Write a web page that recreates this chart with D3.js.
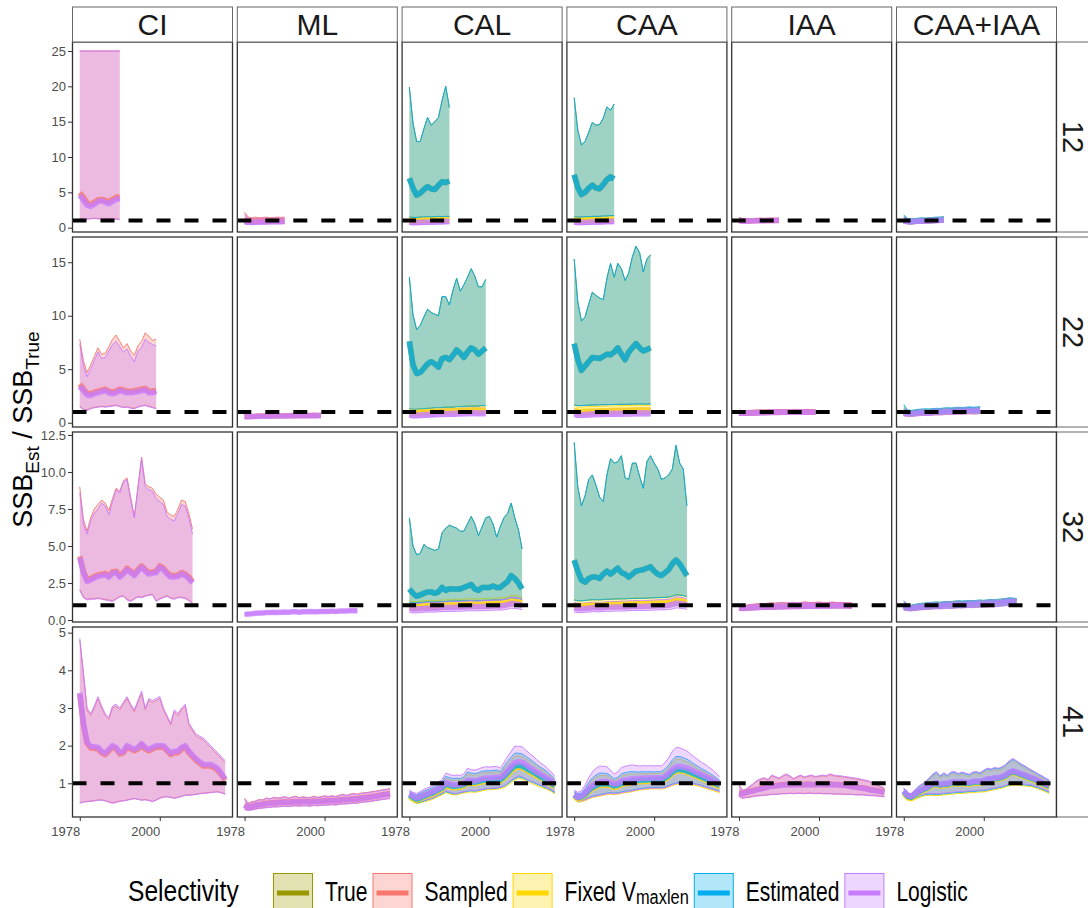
<!DOCTYPE html>
<html>
<head>
<meta charset="utf-8">
<script src="https://cdn.jsdelivr.net/npm/d3@7"></script>
<style>
  html, body { margin: 0; padding: 0; background: #fff; }
  svg { display: block; }
</style>
</head>
<body>
<div id="chart"></div>
<script>
// ---- facets and series ----
const methods = ["CI", "ML", "CAL", "CAA", "IAA", "CAA+IAA"];
const yearLabels = ["12", "22", "32", "41"];
const firstYear = 1978;
const seriesNames = ["True", "Sampled", "Fixed", "Estimated", "Logistic"];
const seriesColors = ["#9a9a00", "#f8766d", "#ffd700", "#00aeef", "#c77cff"];
const xTickValues = [1978, 2000];
const xDomain = [1978, 2018];
const yDomains = [[-0.61, 26.27], [-0.4, 17.36], [-0.135, 12.7], [0.105, 5.15]];
const yTickValues = [[0, 5, 10, 15, 20, 25], [0, 5, 10, 15], [0, 2.5, 5, 7.5, 10, 12.5], [1, 2, 3, 4, 5]];
const referenceLevel = 1;

// ---- 12 years ----
const ci12SamLo = [1.35,1.25,1.25,1.3,1.35,1.3,1.3,1.25,1.25,1.3,1.25,1.2];
const ci12SamMed = [4.95,4.3,3.5,3.3,3.6,3.95,4.0,3.85,3.7,4.0,4.3,4.4];
const ci12SamHi = [25,25,25,25,25,25,25,25,25,25,25,25];
const ci12LogLo = [1.3,1.2,1.2,1.25,1.3,1.25,1.25,1.2,1.2,1.25,1.2,1.15];
const ci12LogMed = [4.6,3.9,3.2,3.0,3.3,3.7,3.8,3.6,3.4,3.7,4.0,4.1];
const ci12LogHi = [25,25,25,25,25,25,25,25,25,25,25,25];

const ml12SamLo = [0.6,0.55,0.55,0.6,0.6,0.62,0.6,0.62,0.65,0.63,0.65,0.66];
const ml12SamMed = [1.1,0.95,0.9,0.92,0.95,0.93,0.95,0.97,0.95,0.98,0.97,0.98];
const ml12SamHi = [2.2,1.5,1.4,1.5,1.4,1.45,1.5,1.4,1.45,1.5,1.45,1.5];
const ml12LogLo = [0.5,0.45,0.47,0.5,0.5,0.52,0.52,0.55,0.55,0.55,0.57,0.58];
const ml12LogMed = [0.9,0.78,0.75,0.78,0.8,0.8,0.82,0.84,0.83,0.85,0.85,0.86];
const ml12LogHi = [1.9,1.35,1.3,1.35,1.3,1.35,1.4,1.3,1.35,1.4,1.35,1.4];

const cal12EstLo = [1.5,1.45,1.45,1.5,1.5,1.55,1.5,1.55,1.6,1.55,1.6,1.6];
const cal12EstMed = [7.0,5.6,4.6,4.9,5.4,5.8,5.5,5.4,6.0,6.5,6.4,6.6];
const cal12EstHi = [19.9,14.8,12.2,12.2,14.0,15.6,14.5,15.0,15.6,18.0,20.0,17.0];
const cal12FixLo = [0.7,0.65,0.65,0.7,0.72,0.72,0.74,0.74,0.75,0.76,0.77,0.78];
const cal12FixMed = [1.05,0.95,0.95,1.0,1.0,1.05,1.0,1.05,1.05,1.05,1.1,1.1];
const cal12FixHi = [1.5,1.35,1.35,1.4,1.4,1.45,1.4,1.45,1.5,1.45,1.5,1.5];
const cal12LogLo = [0.45,0.4,0.42,0.45,0.47,0.48,0.5,0.5,0.52,0.53,0.55,0.56];
const cal12LogMed = [0.8,0.72,0.72,0.75,0.78,0.78,0.8,0.82,0.84,0.85,0.87,0.88];
const cal12LogHi = [1.25,1.15,1.15,1.2,1.2,1.22,1.22,1.25,1.27,1.28,1.3,1.32];

const caa12EstLo = [1.55,1.5,1.5,1.55,1.55,1.6,1.6,1.6,1.65,1.65,1.7,1.7];
const caa12EstMed = [7.5,5.7,4.7,5.0,5.6,6.0,5.6,5.5,6.1,6.8,7.2,6.9];
const caa12EstHi = [18.4,13.8,11.7,12.2,13.5,14.9,14.5,14.6,15.5,17.1,16.6,17.5];
const caa12FixLo = [0.75,0.68,0.66,0.7,0.72,0.74,0.73,0.75,0.76,0.78,0.79,0.8];
const caa12FixMed = [1.1,1.0,0.98,1.0,1.02,1.05,1.03,1.05,1.07,1.08,1.1,1.1];
const caa12FixHi = [1.6,1.4,1.38,1.42,1.45,1.48,1.45,1.47,1.5,1.52,1.53,1.55];
const caa12LogLo = [0.48,0.42,0.42,0.45,0.47,0.5,0.49,0.52,0.53,0.55,0.56,0.57];
const caa12LogMed = [0.82,0.74,0.72,0.75,0.78,0.8,0.79,0.82,0.84,0.86,0.87,0.88];
const caa12LogHi = [1.3,1.18,1.15,1.2,1.22,1.25,1.23,1.26,1.28,1.3,1.32,1.33];

const iaa12SamLo = [0.72,0.69,0.68,0.71,0.73,0.73,0.75,0.73,0.75,0.76,0.75,0.76];
const iaa12SamMed = [1.05,0.97,0.95,0.97,0.99,1.0,1.02,1.0,1.02,1.04,1.02,1.04];
const iaa12SamHi = [1.45,1.28,1.25,1.27,1.3,1.32,1.32,1.3,1.32,1.34,1.32,1.34];
const iaa12LogLo = [0.7,0.68,0.67,0.7,0.72,0.72,0.74,0.72,0.74,0.75,0.74,0.75];
const iaa12LogMed = [1.0,0.95,0.93,0.95,0.97,0.98,1.0,0.98,1.0,1.02,1.0,1.02];
const iaa12LogHi = [1.35,1.25,1.22,1.25,1.28,1.3,1.3,1.28,1.3,1.32,1.3,1.32];

const both12FixLo = [0.62,0.58,0.56,0.6,0.63,0.66,0.65,0.68,0.7,0.73,0.74,0.76];
const both12FixMed = [1.02,0.88,0.84,0.88,0.93,0.97,0.95,0.98,1.02,1.07,1.09,1.12];
const both12FixHi = [1.6,1.28,1.22,1.27,1.32,1.37,1.33,1.38,1.43,1.47,1.48,1.52];
const both12EstLo = [0.65,0.6,0.58,0.62,0.65,0.68,0.67,0.7,0.72,0.75,0.76,0.78];
const both12EstMed = [1.1,0.9,0.85,0.9,0.95,1.0,0.98,1.0,1.05,1.1,1.12,1.15];
const both12EstHi = [1.8,1.3,1.25,1.3,1.35,1.4,1.35,1.4,1.45,1.5,1.5,1.55];
const both12LogLo = [0.6,0.56,0.55,0.58,0.6,0.63,0.62,0.65,0.67,0.7,0.71,0.73];
const both12LogMed = [0.95,0.85,0.82,0.86,0.9,0.94,0.92,0.95,0.99,1.03,1.05,1.08];
const both12LogHi = [1.5,1.25,1.2,1.25,1.3,1.33,1.3,1.35,1.4,1.42,1.45,1.48];

// ---- 22 years ----
const ci22SamLo = [1.55,1.25,1.2,1.35,1.45,1.5,1.55,1.5,1.55,1.6,1.65,1.55,1.45,1.5,1.4,1.35,1.5,1.6,1.65,1.55,1.45,1.35];
const ci22SamMed = [3.6,3.15,2.75,2.7,2.85,2.95,3.05,3.15,2.95,2.85,2.95,3.15,3.05,2.95,2.95,3.0,3.05,3.15,3.2,2.95,2.95,3.05];
const ci22SamHi = [7.8,5.8,4.7,5.4,6.2,7.0,6.4,6.5,7.1,7.8,8.2,7.6,7.0,7.4,6.7,6.3,7.2,7.6,8.4,8.1,7.7,7.8];
const ci22LogLo = [1.5,1.2,1.15,1.3,1.4,1.45,1.5,1.45,1.5,1.55,1.6,1.5,1.4,1.45,1.35,1.3,1.45,1.55,1.6,1.5,1.4,1.3];
const ci22LogMed = [3.4,3.0,2.6,2.55,2.7,2.8,2.9,3.0,2.8,2.7,2.8,3.0,2.9,2.8,2.8,2.85,2.9,3.0,3.05,2.8,2.8,2.9];
const ci22LogHi = [7.4,5.3,4.3,5.0,5.8,6.6,6.0,6.1,6.7,7.3,7.6,7.1,6.6,6.9,6.2,5.7,6.7,7.0,7.8,7.5,7.3,7.2];

const ml22SamLo = [0.43,0.45,0.47,0.48,0.5,0.5,0.52,0.51,0.52,0.53,0.52,0.54,0.53,0.55,0.54,0.55,0.56,0.55,0.56,0.57,0.56,0.57];
const ml22SamMed = [0.57,0.57,0.59,0.6,0.62,0.62,0.64,0.62,0.64,0.65,0.64,0.66,0.65,0.67,0.66,0.67,0.68,0.67,0.68,0.69,0.68,0.69];
const ml22SamHi = [0.74,0.69,0.71,0.73,0.75,0.73,0.77,0.74,0.76,0.78,0.76,0.79,0.77,0.8,0.78,0.79,0.81,0.79,0.8,0.82,0.8,0.81];
const ml22LogLo = [0.42,0.44,0.46,0.47,0.49,0.49,0.51,0.5,0.51,0.52,0.51,0.53,0.52,0.54,0.53,0.54,0.55,0.54,0.55,0.56,0.55,0.56];
const ml22LogMed = [0.55,0.55,0.57,0.58,0.6,0.6,0.62,0.6,0.62,0.63,0.62,0.64,0.63,0.65,0.64,0.65,0.66,0.65,0.66,0.67,0.66,0.67];
const ml22LogHi = [0.7,0.66,0.68,0.7,0.72,0.7,0.74,0.71,0.73,0.75,0.73,0.76,0.74,0.77,0.75,0.76,0.78,0.76,0.77,0.79,0.77,0.78];

const cal22EstLo = [1.3,1.25,1.25,1.3,1.3,1.35,1.35,1.4,1.4,1.4,1.45,1.45,1.45,1.5,1.5,1.5,1.55,1.55,1.55,1.55,1.6,1.6];
const cal22EstMed = [7.6,5.4,4.6,4.7,5.1,5.5,5.7,5.5,5.2,6.0,6.1,5.9,6.3,6.8,6.5,6.1,6.6,7.0,6.8,6.4,6.7,7.0];
const cal22EstHi = [13.6,10.1,8.7,9.1,9.9,10.6,10.3,10.15,10.0,11.8,11.8,11.0,12.4,13.5,12.3,12.9,13.6,14.4,13.7,12.7,12.7,13.4];
const cal22FixLo = [0.72,0.68,0.68,0.7,0.72,0.74,0.75,0.76,0.78,0.79,0.8,0.81,0.82,0.83,0.84,0.85,0.86,0.87,0.87,0.86,0.86,0.87];
const cal22FixMed = [1.0,0.95,0.95,0.98,1.0,1.02,1.04,1.05,1.07,1.08,1.1,1.1,1.12,1.13,1.14,1.15,1.17,1.18,1.18,1.17,1.17,1.18];
const cal22FixHi = [1.3,1.25,1.25,1.3,1.32,1.35,1.38,1.4,1.42,1.45,1.47,1.48,1.5,1.52,1.53,1.55,1.58,1.6,1.6,1.58,1.58,1.6];
const cal22LogLo = [0.5,0.44,0.44,0.46,0.48,0.5,0.52,0.53,0.55,0.56,0.57,0.58,0.59,0.6,0.61,0.62,0.63,0.64,0.64,0.63,0.63,0.64];
const cal22LogMed = [0.78,0.7,0.7,0.73,0.75,0.77,0.79,0.8,0.82,0.84,0.85,0.86,0.87,0.88,0.89,0.9,0.92,0.93,0.93,0.92,0.92,0.93];
const cal22LogHi = [1.15,1.05,1.05,1.1,1.12,1.15,1.18,1.2,1.22,1.25,1.27,1.28,1.3,1.32,1.33,1.35,1.37,1.38,1.38,1.37,1.37,1.38];

const caa22EstLo = [1.65,1.6,1.6,1.62,1.64,1.65,1.66,1.67,1.68,1.68,1.7,1.7,1.71,1.72,1.72,1.72,1.74,1.74,1.75,1.74,1.74,1.75];
const caa22EstMed = [7.4,5.9,4.9,5.3,5.7,6.1,6.05,6.0,6.2,6.4,6.35,6.6,7.0,6.4,5.9,6.6,7.0,7.4,7.0,6.7,6.85,7.0];
const caa22EstHi = [15.3,11.3,9.5,9.9,11.1,12.2,11.9,11.65,11.5,13.5,14.9,13.6,14.9,14.4,13.3,14.0,15.5,16.5,15.9,14.1,15.3,15.7];
const caa22FixLo = [0.8,0.72,0.72,0.74,0.75,0.76,0.77,0.78,0.79,0.8,0.8,0.81,0.82,0.82,0.82,0.83,0.84,0.84,0.85,0.84,0.84,0.85];
const caa22FixMed = [1.2,1.05,1.05,1.07,1.08,1.1,1.1,1.11,1.12,1.13,1.14,1.14,1.16,1.16,1.16,1.16,1.18,1.18,1.19,1.18,1.18,1.19];
const caa22FixHi = [1.75,1.45,1.45,1.48,1.5,1.5,1.52,1.52,1.55,1.55,1.57,1.57,1.6,1.6,1.6,1.6,1.62,1.62,1.64,1.62,1.62,1.64];
const caa22LogLo = [0.55,0.48,0.48,0.5,0.52,0.53,0.54,0.55,0.56,0.57,0.58,0.58,0.59,0.59,0.6,0.6,0.61,0.62,0.62,0.62,0.62,0.63];
const caa22LogMed = [0.85,0.75,0.75,0.78,0.8,0.82,0.83,0.84,0.85,0.86,0.87,0.88,0.89,0.89,0.9,0.9,0.91,0.92,0.93,0.92,0.92,0.93];
const caa22LogHi = [1.3,1.15,1.15,1.18,1.2,1.22,1.23,1.25,1.26,1.28,1.29,1.3,1.32,1.32,1.33,1.33,1.35,1.36,1.37,1.36,1.36,1.37];

const iaa22SamLo = [0.69,0.68,0.7,0.71,0.72,0.73,0.74,0.74,0.75,0.76,0.76,0.76,0.77,0.77,0.77,0.78,0.78,0.78,0.79,0.79,0.78,0.79];
const iaa22SamMed = [0.92,0.9,0.92,0.94,0.95,0.96,0.97,0.97,0.98,0.99,0.99,1.0,1.0,1.01,1.0,1.01,1.02,1.01,1.02,1.02,1.01,1.02];
const iaa22SamHi = [1.2,1.1,1.12,1.15,1.16,1.18,1.19,1.17,1.2,1.22,1.2,1.22,1.23,1.24,1.22,1.24,1.25,1.23,1.24,1.25,1.23,1.24];
const iaa22LogLo = [0.68,0.67,0.69,0.7,0.71,0.72,0.73,0.73,0.74,0.75,0.75,0.75,0.76,0.76,0.76,0.77,0.77,0.77,0.78,0.78,0.77,0.78];
const iaa22LogMed = [0.9,0.88,0.9,0.92,0.93,0.94,0.95,0.95,0.96,0.97,0.97,0.98,0.98,0.99,0.98,0.99,1.0,0.99,1.0,1.0,0.99,1.0];
const iaa22LogHi = [1.15,1.08,1.1,1.13,1.14,1.16,1.17,1.15,1.18,1.2,1.18,1.2,1.21,1.22,1.2,1.22,1.23,1.21,1.22,1.23,1.21,1.22];

const both22FixLo = [0.67,0.62,0.61,0.64,0.67,0.69,0.71,0.7,0.73,0.75,0.74,0.77,0.79,0.78,0.8,0.82,0.81,0.83,0.85,0.83,0.84,0.87];
const both22FixMed = [0.98,0.87,0.85,0.89,0.93,0.96,0.98,0.97,1.0,1.03,1.02,1.05,1.07,1.06,1.09,1.12,1.1,1.12,1.15,1.13,1.14,1.17];
const both22FixHi = [1.5,1.16,1.12,1.17,1.22,1.25,1.27,1.25,1.29,1.32,1.3,1.35,1.37,1.35,1.39,1.42,1.39,1.42,1.45,1.42,1.44,1.47];
const both22EstLo = [0.7,0.65,0.63,0.67,0.7,0.72,0.74,0.73,0.76,0.78,0.77,0.8,0.82,0.81,0.83,0.85,0.84,0.86,0.88,0.86,0.87,0.9];
const both22EstMed = [1.05,0.9,0.87,0.92,0.96,0.99,1.01,1.0,1.03,1.06,1.05,1.08,1.1,1.09,1.12,1.15,1.13,1.15,1.18,1.16,1.17,1.2];
const both22EstHi = [1.7,1.2,1.15,1.2,1.25,1.28,1.3,1.28,1.32,1.35,1.33,1.38,1.4,1.38,1.42,1.45,1.42,1.45,1.48,1.45,1.47,1.5];
const both22LogLo = [0.64,0.6,0.59,0.62,0.65,0.67,0.69,0.68,0.71,0.73,0.72,0.75,0.77,0.76,0.78,0.8,0.79,0.81,0.83,0.81,0.82,0.85];
const both22LogMed = [0.92,0.84,0.82,0.86,0.9,0.93,0.95,0.94,0.97,1.0,0.99,1.02,1.04,1.03,1.06,1.09,1.07,1.09,1.12,1.1,1.11,1.14];
const both22LogHi = [1.35,1.12,1.08,1.14,1.18,1.22,1.24,1.22,1.26,1.29,1.27,1.32,1.34,1.32,1.36,1.39,1.36,1.39,1.42,1.39,1.41,1.44];

// ---- 32 years ----
const ci32SamLo = [2.05,1.55,1.4,1.45,1.45,1.5,1.45,1.4,1.35,1.3,1.45,1.6,1.65,1.4,1.3,1.45,1.6,1.55,1.65,1.7,1.75,1.3,1.45,1.55,1.65,1.5,1.45,1.55,1.55,1.5,1.35,1.15];
const ci32SamMed = [4.3,3.3,2.7,2.8,2.95,3.05,3.1,3.15,3.0,3.25,3.3,3.0,3.2,3.5,3.3,3.1,3.4,3.65,3.4,3.2,3.25,3.3,3.65,3.5,3.2,3.0,3.0,3.05,3.2,3.1,2.9,2.6];
const ci32SamHi = [9.0,6.8,6.0,6.9,7.5,7.8,8.1,7.9,7.4,8.2,8.9,8.7,9.4,9.6,8.3,7.0,9.0,11.0,9.2,9.0,8.9,8.5,8.3,8.1,7.3,7.1,7.0,7.5,8.1,8.0,7.2,6.15];
const ci32LogLo = [2.0,1.5,1.35,1.4,1.4,1.45,1.4,1.35,1.3,1.25,1.4,1.55,1.6,1.35,1.25,1.4,1.55,1.5,1.6,1.65,1.7,1.25,1.4,1.5,1.6,1.45,1.4,1.5,1.5,1.45,1.3,1.1];
const ci32LogMed = [4.2,3.2,2.6,2.7,2.85,2.95,3.0,3.05,2.9,3.15,3.2,2.9,3.1,3.4,3.2,3.0,3.3,3.55,3.3,3.1,3.15,3.2,3.55,3.4,3.1,2.9,2.9,2.95,3.1,3.0,2.8,2.5];
const ci32LogHi = [8.6,6.5,5.8,6.7,7.2,7.5,7.9,7.7,7.1,8.0,8.8,8.6,9.3,9.5,8.1,6.9,8.9,10.9,9.0,8.8,8.7,8.2,8.0,7.8,7.0,6.8,6.7,7.2,7.8,7.7,6.9,5.8];

const ml32LogLo = [0.32,0.34,0.36,0.39,0.41,0.42,0.44,0.44,0.46,0.44,0.46,0.48,0.46,0.49,0.49,0.47,0.49,0.5,0.51,0.49,0.5,0.52,0.51,0.52,0.54,0.52,0.54,0.54,0.55,0.56,0.56,0.57];
const ml32LogMed = [0.38,0.4,0.42,0.45,0.47,0.48,0.5,0.5,0.52,0.5,0.52,0.54,0.52,0.55,0.55,0.53,0.55,0.56,0.57,0.55,0.56,0.58,0.57,0.58,0.6,0.58,0.6,0.6,0.61,0.62,0.62,0.63];
const ml32LogHi = [0.46,0.47,0.49,0.52,0.54,0.55,0.57,0.57,0.59,0.57,0.59,0.61,0.59,0.62,0.62,0.6,0.62,0.63,0.64,0.62,0.63,0.65,0.64,0.65,0.67,0.65,0.67,0.67,0.68,0.69,0.69,0.7];

const cal32EstLo = [1.2,1.15,1.15,1.18,1.2,1.22,1.22,1.2,1.22,1.25,1.25,1.27,1.27,1.28,1.28,1.3,1.3,1.32,1.3,1.3,1.32,1.33,1.33,1.35,1.35,1.35,1.38,1.42,1.5,1.48,1.45,1.4];
const cal32EstMed = [2.1,1.8,1.6,1.7,1.8,1.9,1.9,1.8,1.9,2.2,2.0,2.1,2.1,2.1,2.1,2.2,2.3,2.4,2.1,2.0,2.2,2.2,2.2,2.3,2.2,2.2,2.4,2.6,3.0,2.8,2.5,2.1];
const cal32EstHi = [6.9,5.0,4.4,4.5,5.1,4.9,4.8,4.7,4.8,5.9,6.2,6.4,6.3,6.2,6.0,6.0,6.5,7.0,6.5,5.7,6.3,6.9,7.0,6.5,5.6,6.3,6.9,7.2,7.9,6.9,6.1,4.8];
const cal32FixLo = [0.68,0.64,0.64,0.66,0.68,0.7,0.7,0.69,0.71,0.73,0.73,0.74,0.74,0.75,0.75,0.77,0.78,0.79,0.78,0.78,0.79,0.8,0.81,0.82,0.83,0.83,0.85,0.89,0.96,0.95,0.92,0.87];
const cal32FixMed = [0.95,0.9,0.9,0.92,0.94,0.96,0.96,0.95,0.97,1.0,1.0,1.01,1.01,1.02,1.02,1.04,1.05,1.07,1.05,1.05,1.07,1.08,1.09,1.1,1.11,1.11,1.14,1.18,1.27,1.25,1.22,1.15];
const cal32FixHi = [1.3,1.25,1.25,1.28,1.3,1.32,1.32,1.3,1.33,1.36,1.36,1.38,1.38,1.4,1.4,1.42,1.43,1.45,1.43,1.43,1.45,1.46,1.47,1.49,1.5,1.5,1.53,1.58,1.68,1.66,1.62,1.55];
const cal32LogLo = [0.52,0.48,0.48,0.5,0.52,0.54,0.54,0.53,0.55,0.57,0.57,0.58,0.58,0.59,0.59,0.61,0.62,0.63,0.62,0.62,0.63,0.64,0.65,0.66,0.67,0.67,0.69,0.73,0.8,0.78,0.75,0.7];
const cal32LogMed = [0.8,0.74,0.74,0.76,0.78,0.8,0.8,0.79,0.81,0.84,0.84,0.85,0.85,0.86,0.86,0.88,0.89,0.91,0.89,0.89,0.91,0.92,0.93,0.94,0.95,0.95,0.98,1.03,1.12,1.1,1.06,0.99];
const cal32LogHi = [1.15,1.1,1.1,1.12,1.15,1.17,1.17,1.16,1.18,1.21,1.21,1.23,1.23,1.25,1.25,1.27,1.28,1.3,1.28,1.28,1.3,1.31,1.32,1.34,1.35,1.35,1.38,1.44,1.55,1.52,1.48,1.4];

const caa32EstLo = [1.35,1.3,1.3,1.32,1.35,1.37,1.37,1.36,1.38,1.4,1.4,1.42,1.42,1.43,1.43,1.45,1.45,1.47,1.46,1.46,1.48,1.49,1.5,1.51,1.52,1.52,1.55,1.6,1.7,1.68,1.65,1.58];
const caa32EstMed = [4.05,3.3,2.7,2.55,2.8,2.9,2.9,2.8,3.1,3.3,3.1,3.3,3.5,3.2,3.1,2.9,3.1,3.3,3.35,3.4,3.5,3.6,3.3,3.1,3.0,3.2,3.4,3.8,4.05,3.8,3.4,3.0];
const caa32EstHi = [12.0,9.0,7.7,8.4,9.5,9.8,9.1,8.3,8.0,9.8,10.9,10.6,10.7,11.1,9.6,9.5,10.6,10.6,9.7,8.9,10.7,11.1,10.6,10.2,9.5,9.6,9.8,10.2,11.8,10.6,10.2,7.7];
const caa32FixLo = [0.7,0.66,0.66,0.68,0.7,0.72,0.72,0.71,0.73,0.75,0.75,0.76,0.76,0.77,0.77,0.79,0.8,0.81,0.8,0.8,0.81,0.82,0.83,0.84,0.85,0.85,0.87,0.91,0.98,0.97,0.94,0.89];
const caa32FixMed = [1.0,0.94,0.94,0.96,0.98,1.0,1.0,0.99,1.01,1.04,1.04,1.05,1.05,1.06,1.06,1.08,1.09,1.11,1.09,1.09,1.11,1.12,1.13,1.14,1.15,1.15,1.18,1.22,1.31,1.29,1.26,1.19];
const caa32FixHi = [1.4,1.3,1.3,1.33,1.35,1.37,1.37,1.36,1.38,1.41,1.41,1.43,1.43,1.45,1.45,1.47,1.48,1.5,1.48,1.48,1.5,1.51,1.52,1.54,1.55,1.55,1.58,1.63,1.74,1.72,1.68,1.6];
const caa32LogLo = [0.54,0.5,0.5,0.52,0.54,0.56,0.56,0.55,0.57,0.59,0.59,0.6,0.6,0.61,0.61,0.63,0.64,0.65,0.64,0.64,0.65,0.66,0.67,0.68,0.69,0.69,0.71,0.75,0.82,0.8,0.77,0.72];
const caa32LogMed = [0.82,0.76,0.76,0.78,0.8,0.82,0.82,0.81,0.83,0.86,0.86,0.87,0.87,0.88,0.88,0.9,0.91,0.93,0.91,0.91,0.93,0.94,0.95,0.96,0.97,0.97,1.0,1.05,1.14,1.12,1.08,1.01];
const caa32LogHi = [1.2,1.12,1.12,1.14,1.17,1.19,1.19,1.18,1.2,1.23,1.23,1.25,1.25,1.27,1.27,1.29,1.3,1.32,1.3,1.3,1.32,1.33,1.34,1.36,1.37,1.37,1.4,1.46,1.57,1.54,1.5,1.42];

const iaa32SamLo = [0.67,0.65,0.66,0.68,0.69,0.7,0.71,0.72,0.73,0.73,0.74,0.75,0.75,0.76,0.76,0.77,0.77,0.77,0.78,0.78,0.79,0.79,0.79,0.8,0.8,0.8,0.81,0.81,0.81,0.81,0.8,0.79];
const iaa32SamMed = [0.82,0.8,0.82,0.84,0.86,0.87,0.89,0.9,0.92,0.92,0.93,0.94,0.94,0.95,0.95,0.96,0.97,0.97,0.98,0.98,0.99,0.99,1.0,1.0,1.0,1.01,1.01,1.01,1.02,1.01,1.01,1.0];
const iaa32SamHi = [1.05,0.98,1.0,1.04,1.07,1.1,1.12,1.1,1.14,1.16,1.14,1.17,1.19,1.16,1.18,1.2,1.17,1.19,1.22,1.2,1.18,1.2,1.22,1.19,1.18,1.2,1.21,1.18,1.19,1.17,1.16,1.14];
const iaa32LogLo = [0.66,0.64,0.65,0.67,0.68,0.69,0.7,0.71,0.72,0.72,0.73,0.74,0.74,0.75,0.75,0.76,0.76,0.76,0.77,0.77,0.78,0.78,0.78,0.79,0.79,0.79,0.8,0.8,0.8,0.8,0.79,0.78];
const iaa32LogMed = [0.8,0.78,0.8,0.82,0.84,0.85,0.87,0.88,0.9,0.9,0.91,0.92,0.92,0.93,0.93,0.94,0.95,0.95,0.96,0.96,0.97,0.97,0.98,0.98,0.98,0.99,0.99,0.99,1.0,0.99,0.99,0.98];
const iaa32LogHi = [1.0,0.95,0.98,1.02,1.05,1.08,1.1,1.08,1.12,1.14,1.12,1.15,1.17,1.14,1.16,1.18,1.15,1.17,1.2,1.18,1.16,1.18,1.2,1.17,1.16,1.18,1.19,1.16,1.17,1.15,1.14,1.12];

const both32FixLo = [0.69,0.65,0.63,0.66,0.69,0.71,0.73,0.74,0.76,0.78,0.77,0.79,0.81,0.8,0.82,0.84,0.83,0.85,0.87,0.85,0.87,0.89,0.88,0.9,0.92,0.91,0.94,0.96,0.98,1.02,1.0,0.98];
const both32FixMed = [0.94,0.84,0.81,0.85,0.89,0.92,0.94,0.96,0.98,1.0,0.99,1.02,1.04,1.03,1.06,1.08,1.07,1.09,1.11,1.09,1.12,1.14,1.13,1.15,1.17,1.16,1.19,1.21,1.24,1.29,1.27,1.24];
const both32FixHi = [1.28,1.04,0.99,1.04,1.09,1.12,1.14,1.17,1.19,1.21,1.19,1.23,1.25,1.24,1.27,1.29,1.27,1.29,1.31,1.29,1.32,1.34,1.32,1.35,1.37,1.36,1.39,1.41,1.44,1.49,1.47,1.44];
const both32EstLo = [0.7,0.66,0.64,0.67,0.7,0.72,0.74,0.75,0.77,0.79,0.78,0.8,0.82,0.81,0.83,0.85,0.84,0.86,0.88,0.86,0.88,0.9,0.89,0.91,0.93,0.92,0.95,0.97,0.99,1.03,1.01,0.99];
const both32EstMed = [0.95,0.85,0.82,0.86,0.9,0.93,0.95,0.97,0.99,1.01,1.0,1.03,1.05,1.04,1.07,1.09,1.08,1.1,1.12,1.1,1.13,1.15,1.14,1.16,1.18,1.17,1.2,1.22,1.25,1.3,1.28,1.25];
const both32EstHi = [1.3,1.05,1.0,1.05,1.1,1.13,1.15,1.18,1.2,1.22,1.2,1.24,1.26,1.25,1.28,1.3,1.28,1.3,1.32,1.3,1.33,1.35,1.33,1.36,1.38,1.37,1.4,1.42,1.45,1.5,1.48,1.45];
const both32LogLo = [0.67,0.63,0.61,0.64,0.67,0.69,0.71,0.72,0.74,0.76,0.75,0.77,0.79,0.78,0.8,0.82,0.81,0.83,0.85,0.83,0.85,0.87,0.86,0.88,0.9,0.89,0.92,0.94,0.96,1.0,0.98,0.96];
const both32LogMed = [0.92,0.82,0.79,0.83,0.87,0.9,0.92,0.94,0.96,0.98,0.97,1.0,1.02,1.01,1.04,1.06,1.05,1.07,1.09,1.07,1.1,1.12,1.11,1.13,1.15,1.14,1.17,1.19,1.22,1.27,1.25,1.22];
const both32LogHi = [1.25,1.02,0.97,1.02,1.07,1.1,1.12,1.15,1.17,1.19,1.17,1.21,1.23,1.22,1.25,1.27,1.25,1.27,1.29,1.27,1.3,1.32,1.3,1.33,1.35,1.34,1.37,1.39,1.42,1.47,1.45,1.42];

// ---- 41 years ----
const ci41SamLo = [0.48,0.51,0.52,0.53,0.54,0.56,0.56,0.54,0.51,0.48,0.5,0.53,0.54,0.56,0.58,0.6,0.58,0.56,0.57,0.55,0.52,0.56,0.61,0.64,0.65,0.63,0.61,0.63,0.66,0.69,0.69,0.7,0.71,0.73,0.74,0.75,0.76,0.77,0.78,0.75,0.72];
const ci41SamMed = [3.36,2.56,2.06,1.94,1.93,1.91,1.81,1.76,1.86,1.96,1.91,1.78,1.81,1.96,1.91,1.86,1.91,2.01,1.91,1.86,1.91,1.96,1.96,1.96,1.86,1.76,1.81,1.81,1.91,1.96,1.81,1.71,1.61,1.53,1.46,1.46,1.46,1.41,1.34,1.21,1.08];
const ci41SamHi = [4.8,3.9,2.95,2.8,3.0,3.25,3.0,2.8,2.7,3.0,3.05,2.95,3.1,3.25,3.05,2.9,3.15,3.38,2.95,3.2,3.15,3.2,3.25,2.95,2.75,2.55,2.9,2.8,2.95,3.05,2.55,2.4,2.25,2.2,2.15,2.05,1.95,1.85,1.75,1.65,1.55];
const ci41LogLo = [0.47,0.5,0.51,0.52,0.53,0.55,0.55,0.53,0.5,0.47,0.49,0.52,0.53,0.55,0.57,0.59,0.57,0.55,0.56,0.54,0.51,0.55,0.6,0.63,0.64,0.62,0.6,0.62,0.65,0.68,0.68,0.69,0.7,0.72,0.73,0.74,0.75,0.76,0.77,0.74,0.71];
const ci41LogMed = [3.4,2.6,2.1,1.98,1.97,1.95,1.85,1.8,1.9,2.0,1.95,1.82,1.85,2.0,1.95,1.9,1.95,2.05,1.95,1.9,1.95,2.0,2.0,2.0,1.9,1.8,1.85,1.85,1.95,2.0,1.85,1.75,1.65,1.57,1.5,1.5,1.5,1.45,1.38,1.25,1.12];
const ci41LogHi = [4.85,3.95,3.0,2.85,3.05,3.3,3.05,2.85,2.75,3.05,3.1,3.0,3.15,3.3,3.1,2.95,3.2,3.45,3.0,3.25,3.2,3.25,3.3,3.0,2.8,2.6,2.95,2.85,3.0,3.1,2.6,2.45,2.3,2.25,2.2,2.1,2.0,1.9,1.8,1.7,1.6];

const ml41SamLo = [0.31,0.29,0.3,0.32,0.34,0.35,0.36,0.37,0.38,0.38,0.39,0.4,0.39,0.4,0.41,0.4,0.41,0.41,0.4,0.42,0.41,0.42,0.43,0.43,0.44,0.43,0.45,0.46,0.46,0.47,0.48,0.48,0.5,0.51,0.52,0.53,0.55,0.56,0.58,0.59,0.61];
const ml41SamMed = [0.43,0.37,0.39,0.42,0.44,0.45,0.47,0.48,0.49,0.49,0.5,0.51,0.5,0.51,0.52,0.51,0.52,0.52,0.51,0.53,0.52,0.53,0.54,0.54,0.55,0.54,0.56,0.57,0.57,0.58,0.59,0.59,0.61,0.62,0.63,0.65,0.66,0.68,0.7,0.71,0.73];
const ml41SamHi = [0.6,0.48,0.51,0.53,0.57,0.56,0.61,0.59,0.63,0.61,0.62,0.65,0.61,0.63,0.66,0.62,0.64,0.63,0.62,0.66,0.63,0.64,0.67,0.65,0.67,0.65,0.68,0.71,0.68,0.71,0.73,0.71,0.74,0.75,0.76,0.78,0.79,0.81,0.83,0.84,0.86];
const ml41LogLo = [0.3,0.28,0.29,0.31,0.33,0.34,0.35,0.36,0.37,0.37,0.38,0.39,0.38,0.39,0.4,0.39,0.4,0.4,0.39,0.41,0.4,0.41,0.42,0.42,0.43,0.42,0.44,0.45,0.45,0.46,0.47,0.47,0.49,0.5,0.51,0.52,0.54,0.55,0.57,0.58,0.6];
const ml41LogMed = [0.42,0.36,0.38,0.41,0.43,0.44,0.46,0.47,0.48,0.48,0.49,0.5,0.49,0.5,0.51,0.5,0.51,0.51,0.5,0.52,0.51,0.52,0.53,0.53,0.54,0.53,0.55,0.56,0.56,0.57,0.58,0.58,0.6,0.61,0.62,0.64,0.65,0.67,0.69,0.7,0.72];
const ml41LogHi = [0.58,0.46,0.5,0.52,0.56,0.55,0.6,0.58,0.62,0.6,0.61,0.64,0.6,0.62,0.65,0.61,0.63,0.62,0.61,0.65,0.62,0.63,0.66,0.64,0.66,0.64,0.67,0.7,0.67,0.7,0.72,0.7,0.73,0.74,0.75,0.77,0.78,0.8,0.82,0.83,0.85];

const cal41FixLo = [0.57,0.51,0.46,0.48,0.51,0.53,0.56,0.6,0.65,0.69,0.75,0.72,0.69,0.69,0.72,0.74,0.76,0.77,0.76,0.78,0.8,0.82,0.83,0.83,0.84,0.86,0.88,0.94,1.02,1.08,1.13,1.11,1.06,1.02,0.98,0.94,0.9,0.87,0.83,0.78,0.72];
const cal41FixMed = [0.66,0.6,0.55,0.59,0.63,0.66,0.7,0.74,0.79,0.84,0.93,0.91,0.88,0.89,0.9,0.93,1.0,1.0,0.99,1.01,1.04,1.05,1.06,1.06,1.07,1.06,1.13,1.22,1.32,1.4,1.43,1.41,1.36,1.3,1.25,1.19,1.14,1.09,1.04,0.97,0.9];
const cal41FixHi = [0.74,0.68,0.65,0.7,0.75,0.79,0.83,0.88,0.94,1.0,1.12,1.1,1.07,1.09,1.08,1.12,1.24,1.22,1.21,1.23,1.27,1.28,1.28,1.29,1.3,1.27,1.38,1.5,1.62,1.72,1.73,1.71,1.65,1.59,1.52,1.45,1.38,1.32,1.25,1.17,1.07];
const cal41EstLo = [0.6,0.54,0.48,0.5,0.53,0.56,0.59,0.63,0.68,0.72,0.78,0.75,0.72,0.72,0.75,0.77,0.79,0.8,0.79,0.81,0.83,0.85,0.86,0.86,0.87,0.89,0.92,0.98,1.06,1.12,1.17,1.15,1.1,1.06,1.02,0.98,0.94,0.9,0.86,0.81,0.75];
const cal41EstMed = [0.69,0.63,0.58,0.62,0.66,0.7,0.73,0.78,0.83,0.88,0.98,0.95,0.92,0.93,0.94,0.97,1.04,1.04,1.03,1.05,1.08,1.09,1.1,1.1,1.11,1.1,1.18,1.28,1.38,1.46,1.48,1.46,1.41,1.35,1.3,1.24,1.18,1.13,1.08,1.01,0.93];
const cal41EstHi = [0.78,0.72,0.69,0.74,0.79,0.83,0.87,0.92,0.98,1.04,1.18,1.15,1.12,1.14,1.12,1.17,1.3,1.27,1.26,1.28,1.32,1.33,1.33,1.34,1.35,1.31,1.44,1.58,1.7,1.8,1.8,1.78,1.72,1.65,1.58,1.5,1.43,1.37,1.3,1.21,1.1];
const cal41LogLo = [0.62,0.56,0.5,0.52,0.55,0.57,0.6,0.64,0.7,0.74,0.8,0.77,0.74,0.73,0.76,0.78,0.8,0.82,0.8,0.82,0.84,0.86,0.87,0.87,0.88,0.9,0.93,1.0,1.08,1.15,1.2,1.18,1.12,1.08,1.04,1.0,0.96,0.92,0.88,0.83,0.78];
const cal41LogMed = [0.72,0.66,0.61,0.64,0.69,0.72,0.76,0.8,0.86,0.92,1.02,0.99,0.96,0.96,0.97,1.0,1.08,1.08,1.06,1.09,1.12,1.14,1.14,1.15,1.16,1.15,1.23,1.34,1.45,1.55,1.57,1.56,1.5,1.43,1.37,1.3,1.25,1.19,1.13,1.06,0.98];
const cal41LogHi = [0.82,0.76,0.73,0.78,0.84,0.88,0.92,0.98,1.04,1.1,1.27,1.24,1.2,1.22,1.2,1.25,1.4,1.36,1.35,1.38,1.42,1.44,1.43,1.44,1.45,1.4,1.55,1.71,1.85,1.99,1.98,1.97,1.88,1.8,1.72,1.63,1.55,1.48,1.4,1.3,1.18];

const caa41FixLo = [0.58,0.5,0.51,0.54,0.58,0.62,0.64,0.66,0.68,0.7,0.71,0.7,0.71,0.73,0.75,0.76,0.78,0.8,0.82,0.83,0.84,0.85,0.85,0.85,0.85,0.86,0.9,0.94,0.97,0.98,0.98,0.98,0.97,0.95,0.93,0.9,0.87,0.84,0.81,0.78,0.75];
const caa41FixMed = [0.66,0.59,0.61,0.68,0.77,0.85,0.9,0.94,0.95,0.95,0.93,0.89,0.91,0.96,0.99,1.0,1.02,1.03,1.04,1.05,1.05,1.06,1.05,1.06,1.06,1.1,1.17,1.26,1.32,1.33,1.31,1.29,1.25,1.21,1.17,1.13,1.09,1.04,1.0,0.95,0.9];
const caa41FixHi = [0.74,0.68,0.7,0.81,0.96,1.08,1.16,1.21,1.21,1.2,1.15,1.07,1.11,1.19,1.22,1.24,1.25,1.25,1.25,1.26,1.25,1.26,1.25,1.26,1.26,1.32,1.42,1.55,1.64,1.64,1.61,1.57,1.52,1.45,1.39,1.34,1.29,1.23,1.18,1.11,1.04];
const caa41EstLo = [0.62,0.54,0.55,0.58,0.62,0.66,0.68,0.7,0.72,0.74,0.75,0.74,0.75,0.77,0.79,0.8,0.82,0.84,0.86,0.87,0.88,0.89,0.89,0.89,0.89,0.9,0.94,0.98,1.01,1.02,1.02,1.02,1.01,0.99,0.97,0.94,0.91,0.88,0.85,0.82,0.79];
const caa41EstMed = [0.69,0.62,0.64,0.71,0.81,0.89,0.94,0.98,0.99,0.99,0.97,0.93,0.95,1.0,1.03,1.04,1.06,1.07,1.08,1.09,1.09,1.1,1.09,1.1,1.1,1.14,1.21,1.3,1.36,1.37,1.35,1.33,1.29,1.25,1.21,1.17,1.13,1.08,1.04,0.99,0.94];
const caa41EstHi = [0.78,0.72,0.74,0.86,1.02,1.14,1.22,1.27,1.27,1.26,1.2,1.12,1.16,1.25,1.28,1.3,1.31,1.3,1.3,1.31,1.3,1.31,1.3,1.31,1.31,1.38,1.48,1.62,1.71,1.71,1.68,1.64,1.58,1.51,1.45,1.39,1.34,1.28,1.22,1.15,1.08];
const caa41LogLo = [0.6,0.52,0.53,0.56,0.6,0.64,0.66,0.68,0.7,0.72,0.73,0.72,0.73,0.75,0.77,0.78,0.8,0.82,0.84,0.85,0.86,0.87,0.87,0.87,0.87,0.88,0.92,0.96,0.99,1.0,1.0,1.0,1.0,0.98,0.96,0.93,0.9,0.87,0.84,0.81,0.78];
const caa41LogMed = [0.7,0.63,0.66,0.74,0.85,0.94,1.0,1.04,1.05,1.05,1.02,0.98,1.0,1.06,1.09,1.1,1.12,1.13,1.13,1.14,1.14,1.15,1.14,1.15,1.14,1.19,1.27,1.37,1.44,1.45,1.43,1.41,1.37,1.32,1.28,1.23,1.19,1.14,1.09,1.03,0.97];
const caa41LogHi = [0.82,0.76,0.8,0.95,1.15,1.3,1.4,1.46,1.45,1.44,1.35,1.25,1.3,1.42,1.45,1.47,1.49,1.47,1.46,1.47,1.46,1.47,1.46,1.47,1.46,1.55,1.68,1.85,1.95,1.94,1.9,1.86,1.78,1.7,1.63,1.56,1.5,1.43,1.36,1.27,1.18];

const iaa41SamLo = [0.66,0.61,0.63,0.64,0.66,0.67,0.68,0.69,0.7,0.71,0.71,0.72,0.73,0.73,0.74,0.73,0.74,0.74,0.73,0.74,0.74,0.73,0.74,0.73,0.73,0.73,0.72,0.72,0.72,0.71,0.71,0.71,0.7,0.7,0.7,0.69,0.68,0.68,0.67,0.66,0.65];
const iaa41SamMed = [0.75,0.73,0.76,0.79,0.81,0.84,0.86,0.88,0.91,0.93,0.94,0.95,0.96,0.97,0.97,0.97,0.98,0.97,0.97,0.98,0.97,0.97,0.98,0.97,0.97,0.98,0.97,0.97,0.96,0.95,0.94,0.92,0.91,0.89,0.88,0.86,0.84,0.82,0.81,0.79,0.77];
const iaa41SamHi = [0.94,0.8,0.83,0.9,0.98,1.06,1.1,1.13,1.08,1.2,1.16,1.12,1.18,1.23,1.18,1.11,1.16,1.2,1.15,1.18,1.2,1.16,1.18,1.2,1.18,1.23,1.2,1.18,1.18,1.16,1.15,1.13,1.12,1.1,1.08,1.06,1.03,0.98,0.94,0.9,0.85];
const iaa41LogLo = [0.65,0.6,0.62,0.63,0.65,0.66,0.67,0.68,0.69,0.7,0.7,0.71,0.72,0.72,0.73,0.72,0.73,0.73,0.72,0.73,0.73,0.72,0.73,0.72,0.72,0.72,0.71,0.71,0.71,0.7,0.7,0.7,0.69,0.69,0.69,0.68,0.67,0.67,0.66,0.65,0.64];
const iaa41LogMed = [0.73,0.72,0.75,0.78,0.8,0.83,0.85,0.87,0.9,0.92,0.93,0.94,0.95,0.96,0.96,0.96,0.97,0.96,0.96,0.97,0.96,0.96,0.97,0.96,0.96,0.97,0.96,0.96,0.95,0.94,0.93,0.91,0.9,0.88,0.87,0.85,0.83,0.81,0.8,0.78,0.76];
const iaa41LogHi = [0.96,0.82,0.85,0.92,1.0,1.08,1.12,1.15,1.1,1.22,1.18,1.14,1.2,1.25,1.2,1.13,1.18,1.22,1.17,1.2,1.22,1.18,1.2,1.22,1.2,1.25,1.22,1.2,1.2,1.18,1.17,1.15,1.14,1.12,1.1,1.08,1.05,1.0,0.96,0.92,0.87];

const both41FixLo = [0.65,0.55,0.53,0.57,0.61,0.65,0.67,0.68,0.68,0.67,0.68,0.69,0.7,0.71,0.72,0.73,0.73,0.74,0.75,0.75,0.76,0.77,0.77,0.79,0.81,0.83,0.85,0.87,0.9,0.93,0.95,0.95,0.94,0.93,0.92,0.91,0.88,0.85,0.81,0.77,0.73];
const both41FixMed = [0.75,0.63,0.6,0.67,0.74,0.79,0.83,0.89,0.94,0.97,0.92,0.95,0.94,0.98,0.99,0.97,0.99,0.98,0.97,1.0,1.01,1.0,1.03,1.07,1.07,1.1,1.1,1.13,1.17,1.24,1.28,1.25,1.21,1.18,1.14,1.11,1.07,1.02,0.98,0.93,0.89];
const both41FixHi = [0.82,0.69,0.66,0.76,0.86,0.92,0.99,1.09,1.18,1.24,1.14,1.21,1.16,1.24,1.25,1.2,1.24,1.21,1.18,1.24,1.25,1.22,1.29,1.34,1.32,1.36,1.34,1.38,1.44,1.53,1.59,1.54,1.47,1.42,1.36,1.3,1.25,1.19,1.14,1.08,1.03];
const both41EstLo = [0.68,0.58,0.56,0.6,0.64,0.68,0.7,0.71,0.71,0.7,0.71,0.72,0.73,0.74,0.75,0.76,0.76,0.77,0.78,0.78,0.79,0.8,0.8,0.82,0.84,0.86,0.88,0.9,0.93,0.96,0.98,0.98,0.97,0.96,0.95,0.94,0.91,0.88,0.84,0.8,0.76];
const both41EstMed = [0.78,0.66,0.63,0.7,0.77,0.82,0.86,0.92,0.97,1.0,0.95,0.98,0.97,1.01,1.02,1.0,1.02,1.01,1.0,1.03,1.04,1.03,1.06,1.1,1.1,1.13,1.13,1.16,1.2,1.27,1.31,1.28,1.24,1.21,1.17,1.14,1.1,1.05,1.01,0.96,0.92];
const both41EstHi = [0.86,0.73,0.7,0.8,0.9,0.96,1.03,1.13,1.22,1.28,1.18,1.25,1.2,1.28,1.29,1.24,1.28,1.25,1.22,1.28,1.29,1.26,1.33,1.38,1.36,1.4,1.38,1.42,1.48,1.57,1.63,1.58,1.51,1.46,1.4,1.34,1.29,1.23,1.18,1.12,1.07];
const both41LogLo = [0.7,0.6,0.58,0.62,0.66,0.7,0.72,0.73,0.73,0.72,0.73,0.74,0.75,0.76,0.77,0.78,0.78,0.79,0.8,0.8,0.81,0.82,0.82,0.84,0.86,0.88,0.9,0.92,0.95,0.98,1.0,1.0,0.99,0.98,0.97,0.96,0.93,0.9,0.86,0.82,0.78];
const both41LogMed = [0.8,0.68,0.65,0.72,0.79,0.84,0.88,0.94,0.99,1.02,0.97,1.0,0.99,1.03,1.04,1.02,1.04,1.03,1.02,1.05,1.06,1.05,1.08,1.12,1.12,1.15,1.15,1.18,1.22,1.29,1.33,1.3,1.26,1.23,1.19,1.16,1.12,1.07,1.03,0.98,0.94];
const both41LogHi = [0.88,0.75,0.72,0.82,0.92,0.98,1.05,1.15,1.25,1.31,1.2,1.28,1.22,1.3,1.31,1.26,1.3,1.27,1.24,1.3,1.31,1.28,1.35,1.4,1.38,1.42,1.4,1.44,1.5,1.6,1.66,1.6,1.53,1.48,1.42,1.36,1.31,1.25,1.2,1.14,1.09];

// Bands table: [years label, method, selectivity, lower, median, upper].
// In CAL and CAA the True and Estimated selectivity runs give the same band.
const bands = [
  ["12","CI","Sampled",ci12SamLo,ci12SamMed,ci12SamHi],
  ["12","CI","Logistic",ci12LogLo,ci12LogMed,ci12LogHi],
  ["12","ML","Sampled",ml12SamLo,ml12SamMed,ml12SamHi],
  ["12","ML","Logistic",ml12LogLo,ml12LogMed,ml12LogHi],
  ["12","CAL","True",cal12EstLo,cal12EstMed,cal12EstHi],
  ["12","CAL","Fixed",cal12FixLo,cal12FixMed,cal12FixHi],
  ["12","CAL","Estimated",cal12EstLo,cal12EstMed,cal12EstHi],
  ["12","CAL","Logistic",cal12LogLo,cal12LogMed,cal12LogHi],
  ["12","CAA","True",caa12EstLo,caa12EstMed,caa12EstHi],
  ["12","CAA","Fixed",caa12FixLo,caa12FixMed,caa12FixHi],
  ["12","CAA","Estimated",caa12EstLo,caa12EstMed,caa12EstHi],
  ["12","CAA","Logistic",caa12LogLo,caa12LogMed,caa12LogHi],
  ["12","IAA","Sampled",iaa12SamLo,iaa12SamMed,iaa12SamHi],
  ["12","IAA","Logistic",iaa12LogLo,iaa12LogMed,iaa12LogHi],
  ["12","CAA+IAA","Fixed",both12FixLo,both12FixMed,both12FixHi],
  ["12","CAA+IAA","Estimated",both12EstLo,both12EstMed,both12EstHi],
  ["12","CAA+IAA","Logistic",both12LogLo,both12LogMed,both12LogHi],

  ["22","CI","Sampled",ci22SamLo,ci22SamMed,ci22SamHi],
  ["22","CI","Logistic",ci22LogLo,ci22LogMed,ci22LogHi],
  ["22","ML","Sampled",ml22SamLo,ml22SamMed,ml22SamHi],
  ["22","ML","Logistic",ml22LogLo,ml22LogMed,ml22LogHi],
  ["22","CAL","True",cal22EstLo,cal22EstMed,cal22EstHi],
  ["22","CAL","Fixed",cal22FixLo,cal22FixMed,cal22FixHi],
  ["22","CAL","Estimated",cal22EstLo,cal22EstMed,cal22EstHi],
  ["22","CAL","Logistic",cal22LogLo,cal22LogMed,cal22LogHi],
  ["22","CAA","True",caa22EstLo,caa22EstMed,caa22EstHi],
  ["22","CAA","Fixed",caa22FixLo,caa22FixMed,caa22FixHi],
  ["22","CAA","Estimated",caa22EstLo,caa22EstMed,caa22EstHi],
  ["22","CAA","Logistic",caa22LogLo,caa22LogMed,caa22LogHi],
  ["22","IAA","Sampled",iaa22SamLo,iaa22SamMed,iaa22SamHi],
  ["22","IAA","Logistic",iaa22LogLo,iaa22LogMed,iaa22LogHi],
  ["22","CAA+IAA","Fixed",both22FixLo,both22FixMed,both22FixHi],
  ["22","CAA+IAA","Estimated",both22EstLo,both22EstMed,both22EstHi],
  ["22","CAA+IAA","Logistic",both22LogLo,both22LogMed,both22LogHi],

  ["32","CI","Sampled",ci32SamLo,ci32SamMed,ci32SamHi],
  ["32","CI","Logistic",ci32LogLo,ci32LogMed,ci32LogHi],
  ["32","ML","Logistic",ml32LogLo,ml32LogMed,ml32LogHi],
  ["32","CAL","True",cal32EstLo,cal32EstMed,cal32EstHi],
  ["32","CAL","Fixed",cal32FixLo,cal32FixMed,cal32FixHi],
  ["32","CAL","Estimated",cal32EstLo,cal32EstMed,cal32EstHi],
  ["32","CAL","Logistic",cal32LogLo,cal32LogMed,cal32LogHi],
  ["32","CAA","True",caa32EstLo,caa32EstMed,caa32EstHi],
  ["32","CAA","Fixed",caa32FixLo,caa32FixMed,caa32FixHi],
  ["32","CAA","Estimated",caa32EstLo,caa32EstMed,caa32EstHi],
  ["32","CAA","Logistic",caa32LogLo,caa32LogMed,caa32LogHi],
  ["32","IAA","Sampled",iaa32SamLo,iaa32SamMed,iaa32SamHi],
  ["32","IAA","Logistic",iaa32LogLo,iaa32LogMed,iaa32LogHi],
  ["32","CAA+IAA","Fixed",both32FixLo,both32FixMed,both32FixHi],
  ["32","CAA+IAA","Estimated",both32EstLo,both32EstMed,both32EstHi],
  ["32","CAA+IAA","Logistic",both32LogLo,both32LogMed,both32LogHi],

  ["41","CI","Sampled",ci41SamLo,ci41SamMed,ci41SamHi],
  ["41","CI","Logistic",ci41LogLo,ci41LogMed,ci41LogHi],
  ["41","ML","Sampled",ml41SamLo,ml41SamMed,ml41SamHi],
  ["41","ML","Logistic",ml41LogLo,ml41LogMed,ml41LogHi],
  ["41","CAL","Fixed",cal41FixLo,cal41FixMed,cal41FixHi],
  ["41","CAL","Estimated",cal41EstLo,cal41EstMed,cal41EstHi],
  ["41","CAL","Logistic",cal41LogLo,cal41LogMed,cal41LogHi],
  ["41","CAA","Fixed",caa41FixLo,caa41FixMed,caa41FixHi],
  ["41","CAA","Estimated",caa41EstLo,caa41EstMed,caa41EstHi],
  ["41","CAA","Logistic",caa41LogLo,caa41LogMed,caa41LogHi],
  ["41","IAA","Sampled",iaa41SamLo,iaa41SamMed,iaa41SamHi],
  ["41","IAA","Logistic",iaa41LogLo,iaa41LogMed,iaa41LogHi],
  ["41","CAA+IAA","Fixed",both41FixLo,both41FixMed,both41FixHi],
  ["41","CAA+IAA","Estimated",both41EstLo,both41EstMed,both41EstHi],
  ["41","CAA+IAA","Logistic",both41LogLo,both41LogMed,both41LogHi]
];

// ---- layout ----
const W = 1088, H = 908;
const FONT = "'Liberation Sans', Arial, Helvetica, sans-serif";
const colLeft = 72.5, colStep = 164.8, panelW = 160;
const rowTop = 42, rowStep = 195, panelH = 190;
const stripTop = 7;
const ribbonAlpha = 0.3, lineAlpha = 0.8;

const color = d3.scaleOrdinal().domain(seriesNames).range(seriesColors);

const svg = d3.select("#chart").append("svg")
  .attr("width", W).attr("height", H)
  .style("font-family", FONT);
svg.append("rect").attr("width", W).attr("height", H).attr("fill", "#fff");

const x = d3.scaleLinear().domain(xDomain).range([panelW * 0.05 / 1.1, panelW - panelW * 0.05 / 1.1]);
const defs = svg.append("defs");
defs.append("clipPath").attr("id", "panel-clip")
  .append("rect").attr("width", panelW).attr("height", panelH);

yearLabels.forEach((lab, r) => {
  const top = rowTop + r * rowStep;
  const y = d3.scaleLinear().domain(yDomains[r]).range([panelH, 0]);

  methods.forEach((m, c) => {
    const left = colLeft + c * colStep;
    const g = svg.append("g").attr("transform", `translate(${left},${top})`);
    const plot = g.append("g").attr("clip-path", "url(#panel-clip)");

    const items = bands
      .filter(b => b[0] === lab && b[1] === m)
      .sort((a, b) => seriesNames.indexOf(a[2]) - seriesNames.indexOf(b[2]));

    // ribbons with their edge lines
    items.forEach(([, , s, lo, med, hi]) => {
      const idx = d3.range(med.length);
      const xi = i => x(firstYear + i);
      plot.append("path")
        .attr("d", d3.area().x(xi).y0(i => y(lo[i])).y1(i => y(hi[i]))(idx))
        .attr("fill", color(s)).attr("fill-opacity", ribbonAlpha);
      [lo, hi].forEach(edge => {
        plot.append("path")
          .attr("d", d3.line().x(xi).y(i => y(edge[i]))(idx))
          .attr("fill", "none").attr("stroke", color(s)).attr("stroke-width", 0.9);
      });
    });
    // medians
    items.forEach(([, , s, lo, med]) => {
      const idx = d3.range(med.length);
      plot.append("path")
        .attr("d", d3.line().x(i => x(firstYear + i)).y(i => y(med[i]))(idx))
        .attr("fill", "none").attr("stroke", color(s))
        .attr("stroke-opacity", lineAlpha).attr("stroke-width", 5.5)
        .attr("stroke-linejoin", "round");
    });
    // reference ratio of 1
    plot.append("line")
      .attr("x1", 0).attr("x2", panelW)
      .attr("y1", y(referenceLevel)).attr("y2", y(referenceLevel))
      .attr("stroke", "#000").attr("stroke-width", 4)
      .attr("stroke-dasharray", "14,14");

    g.append("rect").attr("width", panelW).attr("height", panelH)
      .attr("fill", "none").attr("stroke", "#333").attr("stroke-width", 1.3);

    if (c === 0) {
      const ax = g.append("g").call(
        d3.axisLeft(y).tickValues(yTickValues[r]).tickSize(4.5).tickPadding(2)
          .tickFormat(r === 2 ? d3.format(".1f") : d3.format("d")));
      ax.select(".domain").remove();
      ax.selectAll("line").attr("stroke", "#333");
      ax.selectAll("text").attr("fill", "#4d4d4d").style("font-size", "13px").style("font-family", FONT);
    }
    if (r === yearLabels.length - 1) {
      const ax = g.append("g").attr("transform", `translate(0,${panelH})`).call(
        d3.axisBottom(x).tickValues(xTickValues).tickSize(4).tickPadding(5.5).tickFormat(d3.format("d")));
      ax.select(".domain").remove();
      ax.selectAll("line").attr("stroke", "#333");
      ax.selectAll("text").attr("fill", "#4d4d4d").attr("text-anchor", "end")
        .style("font-size", "13px").style("font-family", FONT);
    }
    if (r === 0) {
      svg.append("rect").attr("x", left).attr("y", stripTop)
        .attr("width", panelW).attr("height", rowTop - stripTop)
        .attr("fill", "#fff").attr("stroke", "#666").attr("stroke-width", 1);
      svg.append("text").attr("x", left + panelW / 2).attr("y", rowTop - 7)
        .attr("text-anchor", "middle").style("font-size", "30px").attr("fill", "#1a1a1a")
        .text(m);
    }
  });

  // row strip on the right
  const sx = colLeft + (methods.length - 1) * colStep + panelW;
  svg.append("rect").attr("x", sx).attr("y", top).attr("width", 40).attr("height", panelH)
    .attr("fill", "#fff").attr("stroke", "#666").attr("stroke-width", 1);
  svg.append("line").attr("x1", sx).attr("x2", sx).attr("y1", top).attr("y2", top + panelH)
    .attr("stroke", "#333").attr("stroke-width", 1.3);
  svg.append("text")
    .attr("transform", `translate(${sx + 16},${top + panelH / 2}) rotate(90)`)
    .attr("text-anchor", "middle").attr("dominant-baseline", "central")
    .style("font-size", "29px").attr("fill", "#1a1a1a").text(lab);
});

// y axis title
const yTitle = svg.append("text")
  .attr("transform", `translate(32,${rowTop + (yearLabels.length * rowStep - (rowStep - panelH)) / 2}) rotate(-90)`)
  .attr("text-anchor", "middle").style("font-size", "27px").attr("fill", "#000");
yTitle.append("tspan").text("SSB");
yTitle.append("tspan").attr("dy", 7).style("font-size", "19px").text("Est");
yTitle.append("tspan").attr("dy", -7).text(" / SSB");
yTitle.append("tspan").attr("dy", 7).style("font-size", "19px").text("True");

// ---- legend (condensed lettering) ----
function legendText(xp, yp, size, squeeze) {
  return svg.append("text")
    .attr("transform", `translate(${xp},${yp}) scale(${squeeze},1)`)
    .style("font-family", FONT).style("font-size", size + "px").attr("fill", "#000");
}

const legendY = 873, keyW = 40, keyH = 40, labelSqueeze = 0.78;
legendText(128, 900.5, 30, 0.82).text("Selectivity");
let lx = 273;
const legendLabels = [["True"], ["Sampled"], ["Fixed V", "maxlen"], ["Estimated"], ["Logistic"]];
seriesNames.forEach((s, i) => {
  svg.append("rect").attr("x", lx + 0.5).attr("y", legendY + 0.5)
    .attr("width", keyW - 1).attr("height", keyH - 1)
    .attr("fill", color(s)).attr("fill-opacity", ribbonAlpha)
    .attr("stroke", color(s)).attr("stroke-width", 1);
  svg.append("line").attr("x1", lx + 4).attr("x2", lx + keyW - 4)
    .attr("y1", legendY + 20).attr("y2", legendY + 20)
    .attr("stroke", color(s)).attr("stroke-width", 5);
  const t = legendText(lx + keyW + 12, 900.5, 27, labelSqueeze);
  t.append("tspan").text(legendLabels[i][0]);
  if (legendLabels[i][1]) t.append("tspan").attr("dy", 3).style("font-size", "21px").text(legendLabels[i][1]);
  lx = lx + keyW + 12 + t.node().getBBox().width * labelSqueeze + 5;
});
</script>
</body>
</html>
